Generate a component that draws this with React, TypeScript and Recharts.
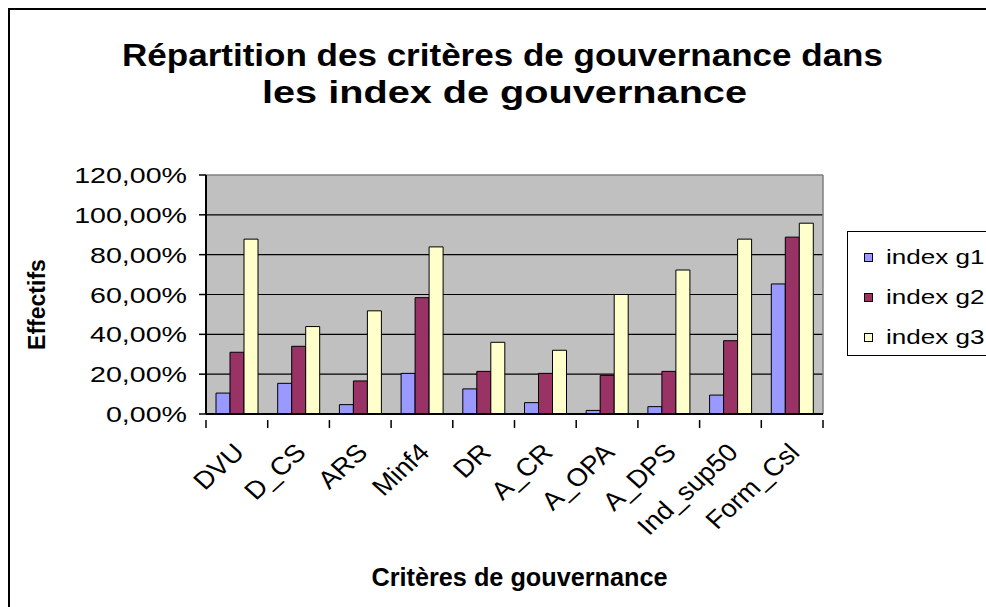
import React from 'react';
import { BarChart, Bar, XAxis, YAxis, CartesianGrid, Legend, Label } from 'recharts';

const categories = ['DVU', 'D_CS', 'ARS', 'Minf4', 'DR', 'A_CR', 'A_OPA', 'A_DPS', 'Ind_sup50', 'Form_Csl'];
const indexG1 = [10.5, 15.4, 4.7, 20.4, 12.6, 5.7, 1.8, 3.7, 9.5, 65.3];
const indexG2 = [31.0, 34.0, 16.6, 58.4, 21.4, 20.4, 19.4, 21.4, 36.8, 88.8];
const indexG3 = [87.8, 43.9, 51.8, 83.9, 36.0, 32.0, 60.0, 72.3, 87.8, 95.8];
const seriesNames = ['index g1', 'index g2', 'index g3'];
const seriesColors = ['#9999FF', '#993366', '#FFFFCC'];
const yTicks = [0, 20, 40, 60, 80, 100, 120];
const titleLines = ['Répartition des critères de gouvernance dans', 'les index de gouvernance'];
const yTitle = 'Effectifs';
const xTitle = 'Critères de gouvernance';

const data = categories.map((c, i) => ({ name: c, g1: indexG1[i], g2: indexG2[i], g3: indexG3[i] }));
const keys = ['g1', 'g2', 'g3'];

const FONT = 'Arial, "Liberation Sans", Helvetica, sans-serif';
const W = 960;
const H = 597;
const TICK_FS = 22;
const TICK_SX = 1.3;
const XTICK_FS = 25;
const XTICK_SX = 1.1;

const fmt = (v: number) => v.toFixed(2).replace('.', ',') + '%';

const XTick = (props: any) => {
  const { x, y, payload, index, visibleTicksCount } = props;
  const band = 61.7;
  const left = x - band / 2;
  return (
    <g>
      <line x1={left} y1={y - 2} x2={left} y2={y + 6} stroke="#000" strokeWidth={1.5} />
      {index === (visibleTicksCount ?? categories.length) - 1 && (
        <line x1={x + band / 2} y1={y - 2} x2={x + band / 2} y2={y + 6} stroke="#000" strokeWidth={1.5} />
      )}
      <text
        x={0}
        y={0}
        transform={`translate(${x + 9},${y + 32}) scale(${XTICK_SX},1) rotate(-45)`}
        textAnchor="end"
        fontFamily={FONT}
        fontSize={XTICK_FS}
        fill="#000"
      >
        {payload.value}
      </text>
    </g>
  );
};

const YTick = (props: any) => {
  const { x, y, payload } = props;
  return (
    <text
      x={0}
      y={0}
      dy={8}
      transform={`translate(${x},${y}) scale(${TICK_SX},1)`}
      textAnchor="end"
      fontFamily={FONT}
      fontSize={TICK_FS}
      fill="#000"
    >
      {fmt(payload.value)}
    </text>
  );
};

const LegendContent = () => (
  <div
    style={{
      border: '1.5px solid #000',
      background: '#fff',
      width: 170,
      height: 125,
      boxSizing: 'border-box',
      fontFamily: FONT,
      fontSize: 21,
      paddingTop: 5,
    }}
  >
    {seriesNames.map((n, i) => (
      <div key={n} style={{ display: 'flex', alignItems: 'center', height: 40, paddingLeft: 16 }}>
        <span
          style={{
            display: 'inline-block',
            width: 7,
            height: 7,
            border: '1px solid #000',
            background: seriesColors[i],
            marginRight: 13,
          }}
        />
        <span style={{ display: 'inline-block', transform: 'scaleX(1.24)', transformOrigin: 'left center' }}>{n}</span>
      </div>
    ))}
  </div>
);

export default function App() {
  return (
    <div
      style={{
        position: 'fixed',
        left: 8,
        top: 8,
        width: 1010,
        height: 620,
        overflow: 'hidden',
        borderTop: '2px solid #000',
        borderLeft: '2px solid #000',
        boxSizing: 'border-box',
        background: '#fff',
      }}
    >
      <BarChart
        width={W}
        height={H}
        data={data}
        margin={{ top: 165, right: W - 813, bottom: 133, left: 0 }}
        barCategoryGap={10}
        barGap={0}
        style={{ overflow: 'visible' }}
      >
        <text
          x={492.5}
          y={56}
          textAnchor="middle"
          fontFamily={FONT}
          fontWeight="bold"
          fontSize={31}
          textLength={761}
          lengthAdjust="spacingAndGlyphs"
          fill="#000"
        >
          {titleLines[0]}
        </text>
        <text
          x={494.5}
          y={93}
          textAnchor="middle"
          fontFamily={FONT}
          fontWeight="bold"
          fontSize={31}
          textLength={485}
          lengthAdjust="spacingAndGlyphs"
          fill="#000"
        >
          {titleLines[1]}
        </text>
        <CartesianGrid
          vertical={false}
          fill="#C0C0C0"
          stroke="#000"
          strokeWidth={1.2}
          horizontalCoordinatesGenerator={(p: any) => {
            const o = p.offset;
            return [20, 40, 60, 80, 100].map((v) => o.top + o.height * (1 - v / 120));
          }}
        />
        <CartesianGrid
          vertical
          horizontal
          stroke="#808080"
          strokeWidth={1.5}
          horizontalCoordinatesGenerator={(p: any) => [p.offset.top]}
          verticalCoordinatesGenerator={(p: any) => [p.offset.left + p.offset.width]}
        />
        <XAxis
          dataKey="name"
          height={60}
          interval={0}
          tickLine={false}
          axisLine={{ stroke: '#000', strokeWidth: 2 }}
          tick={<XTick />}
        >
          <Label
            content={(lp: any) => {
              const vb = lp.viewBox;
              return (
                <text
                  x={vb.x + vb.width / 2 + 5}
                  y={576}
                  textAnchor="middle"
                  fontFamily={FONT}
                  fontWeight="bold"
                  fontSize={25}
                  textLength={296}
                  lengthAdjust="spacingAndGlyphs"
                  fill="#000"
                >
                  {xTitle}
                </text>
              );
            }}
          />
        </XAxis>
        <YAxis
          width={196}
          domain={[0, 120]}
          ticks={yTicks}
          interval={0}
          tickSize={7}
          tickMargin={12}
          tickLine={{ stroke: '#000', strokeWidth: 1.5 }}
          axisLine={{ stroke: '#000', strokeWidth: 2 }}
          tick={<YTick />}
        >
          <Label
            content={(lp: any) => {
              const vb = lp.viewBox;
              const cy = vb.y + vb.height / 2 + 10;
              return (
                <text
                  x={0}
                  y={0}
                  transform={`translate(35,${cy}) rotate(-90)`}
                  textAnchor="middle"
                  fontFamily={FONT}
                  fontWeight="bold"
                  fontSize={23}
                  fill="#000"
                >
                  {yTitle}
                </text>
              );
            }}
          />
        </YAxis>
        <Legend
          layout="vertical"
          align="center"
          verticalAlign="middle"
          wrapperStyle={{ left: 837, top: 221, width: 170 }}
          content={<LegendContent />}
        />
        {keys.map((k, i) => (
          <Bar
            key={k}
            dataKey={k}
            name={seriesNames[i]}
            fill={seriesColors[i]}
            stroke="#000"
            strokeWidth={1}
            isAnimationActive={false}
          />
        ))}
      </BarChart>
    </div>
  );
}
